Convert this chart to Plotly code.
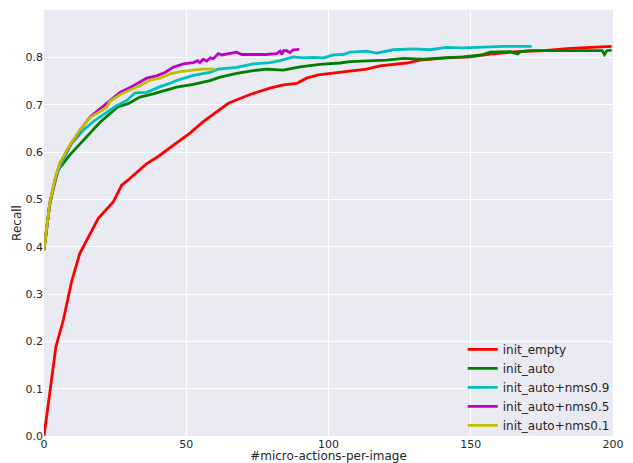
import plotly.graph_objects as go

# ---- data ----
empty_x = [0, 4.2, 6.8, 9.7, 12.6, 14.4, 19.1, 24.4, 27.3, 29.6, 32, 36, 40, 43.1, 46.5, 51.3, 56.0, 60.7,
           64.8, 68.9, 73.6, 79.4, 84.1, 88.8, 92.3, 96.4, 100.5, 104, 107.6, 113.4, 118.1, 127.5, 132.2,
           141.5, 149.7, 156.8, 166.2, 175.6, 185, 194.3, 199.5]
empty_y = [0, 0.189, 0.245, 0.326, 0.386, 0.407, 0.460, 0.495, 0.530, 0.541, 0.553, 0.575, 0.590, 0.604,
           0.620, 0.640, 0.664, 0.685, 0.703, 0.713, 0.724, 0.735, 0.742, 0.745, 0.756, 0.763, 0.766, 0.768,
           0.772, 0.775, 0.782, 0.788, 0.794, 0.799, 0.801, 0.807, 0.812, 0.814, 0.819, 0.822, 0.823]

auto_x = [0, 2, 3.3, 5, 9.1, 12.7, 16.2, 19.7, 23.2, 26.1, 29.6, 33.7, 38.4, 40.8, 44.3, 46.6, 52.5, 58.3,
          61.9, 67.7, 73.6, 78.3, 84.1, 90, 97, 100.5, 104, 107.6, 113.4, 120.5, 126.3, 133.3, 140.4, 147.4,
          153.8, 156.8, 163.8, 166.5, 167.5, 170.8, 182.5, 196.2, 197, 197.8, 199.5]
auto_y = [0.393, 0.488, 0.523, 0.562, 0.594, 0.618, 0.642, 0.663, 0.681, 0.696, 0.702, 0.716, 0.723, 0.727,
          0.734, 0.737, 0.743, 0.751, 0.758, 0.766, 0.772, 0.775, 0.773, 0.780, 0.785, 0.786, 0.788, 0.791,
          0.793, 0.794, 0.798, 0.796, 0.799, 0.801, 0.805, 0.811, 0.812, 0.807, 0.812, 0.814, 0.814, 0.814,
          0.806, 0.814, 0.815]

nms09_x = [0, 2, 4, 5.6, 9.7, 13.8, 17.9, 22, 25.5, 29.1, 32, 36.1, 40.8, 44.3, 46.6, 52.5, 58.3, 61.3,
           67.7, 73.6, 79.4, 83, 87.6, 91.1, 94.7, 98.2, 101.7, 105.2, 107.6, 113.4, 116.9, 122.8, 129.8,
           135.7, 141.5, 147.4, 154.4, 161.5, 171.4]
nms09_y = [0.393, 0.49, 0.543, 0.57, 0.618, 0.646, 0.667, 0.684, 0.698, 0.709, 0.725, 0.726, 0.738, 0.745,
           0.751, 0.762, 0.768, 0.775, 0.779, 0.786, 0.789, 0.793, 0.801, 0.799, 0.800, 0.799, 0.805, 0.806,
           0.811, 0.813, 0.809, 0.816, 0.818, 0.816, 0.821, 0.820, 0.822, 0.823, 0.823]

nms05_x = [0, 2, 4, 5.6, 9.1, 12.7, 16.2, 19.7, 23.2, 26.7, 30.2, 33.7, 36.1, 39.6, 42.5, 45.4, 49, 52.5,
           54, 54.8, 56, 57.2, 58.5, 59.5, 61.3, 62.5, 64.2, 66, 67.7, 69.5, 72, 75.9, 78, 81.8, 83, 83.6,
           84.2, 85.3, 86.5, 87.6, 89.7]
nms05_y = [0.393, 0.49, 0.545, 0.576, 0.614, 0.646, 0.674, 0.691, 0.708, 0.726, 0.736, 0.747, 0.756, 0.761,
           0.768, 0.779, 0.786, 0.789, 0.793, 0.789, 0.796, 0.792, 0.799, 0.797, 0.808, 0.805, 0.807, 0.810,
           0.811, 0.806, 0.806, 0.807, 0.806, 0.808, 0.813, 0.806, 0.814, 0.814, 0.810, 0.816, 0.817]

nms01_x = [0, 2, 4, 5.6, 9.1, 12.7, 16.2, 19.7, 21.2, 22, 23.2, 26.7, 30.2, 33.7, 37.3, 40.8, 44.3, 47.8,
           52.5, 56, 60.1]
nms01_y = [0.393, 0.492, 0.546, 0.577, 0.615, 0.647, 0.673, 0.686, 0.692, 0.694, 0.707, 0.721, 0.731, 0.740,
           0.752, 0.756, 0.765, 0.770, 0.773, 0.775, 0.775]

series = [
    ("init_empty", empty_x, empty_y, "#FF0000"),
    ("init_auto", auto_x, auto_y, "#008000"),
    ("init_auto+nms0.9", nms09_x, nms09_y, "#00BFBF"),
    ("init_auto+nms0.5", nms05_x, nms05_y, "#BF00BF"),
    ("init_auto+nms0.1", nms01_x, nms01_y, "#BFBF00"),
]

x_ticks = [0, 50, 100, 150, 200]
y_ticks = [0.0, 0.1, 0.2, 0.3, 0.4, 0.5, 0.6, 0.7, 0.8, 0.9]

FONT = "DejaVu Sans"
TXT = "#262626"

fig = go.Figure()
for name, xs, ys, col in series:
    fig.add_trace(go.Scatter(x=xs, y=ys, mode="lines", name=name,
                             line=dict(color=col, width=2.8)))

# the page body adds an 8px margin, so the figure is sized to fit the 633x463 window
fig.update_layout(
    width=625, height=455,
    margin=dict(l=36, r=20, t=2, b=27, autoexpand=False),
    paper_bgcolor="white",
    plot_bgcolor="#EAEAF2",
    font=dict(family=FONT, size=11, color=TXT),
    showlegend=True,
    legend=dict(x=1.003, xanchor="right", y=-0.009, yanchor="bottom",
                bgcolor="rgba(0,0,0,0)", font=dict(size=12, color=TXT, family=FONT),
                itemwidth=30),
    xaxis=dict(range=[0, 200], tickvals=x_ticks, ticktext=[str(v) for v in x_ticks],
               showgrid=True, gridcolor="white", gridwidth=1, zeroline=False,
               showline=False, ticks="", automargin=True,
               tickfont=dict(size=11, color=TXT),
               title=dict(text="#micro-actions-per-image", font=dict(size=12, color=TXT), standoff=2)),
    yaxis=dict(range=[0, 0.9], tickvals=y_ticks, ticktext=["%.1f" % v for v in y_ticks],
               showgrid=True, gridcolor="white", gridwidth=1, zeroline=False,
               showline=False, ticks="", automargin=False,
               tickfont=dict(size=11, color=TXT),
               title=dict(text="Recall", font=dict(size=12, color=TXT), standoff=1)),
)

fig.write_html("out.html")
